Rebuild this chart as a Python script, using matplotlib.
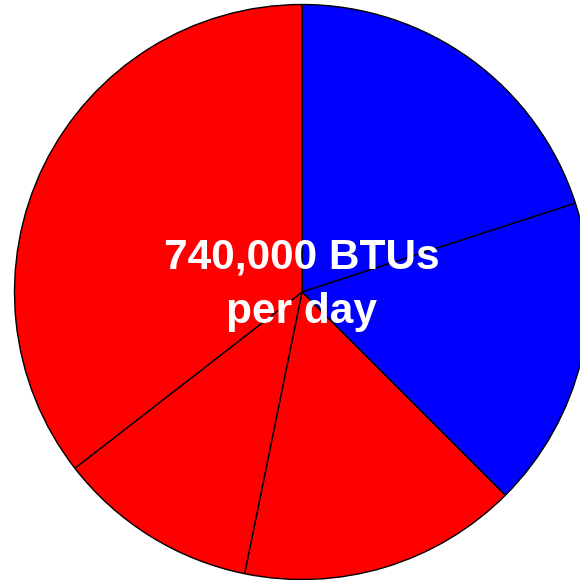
import matplotlib
matplotlib.use("Agg")
import matplotlib.pyplot as plt

plt.rcParams["font.family"] = ["Liberation Sans", "DejaVu Sans"]

# slices clockwise from 12 o'clock
shares = [20.0, 17.5, 15.7, 11.3, 35.5]
colors = ["#0000ff", "#0000ff", "#ff0000", "#ff0000", "#ff0000"]
center_label = "740,000 BTUs\nper day"

fig = plt.figure(figsize=(5.8, 5.8), dpi=100)
ax = fig.add_axes([0, 0, 1, 1])
ax.pie(shares, colors=colors, startangle=90, counterclock=False, radius=1,
       wedgeprops=dict(edgecolor="black", linewidth=1.0))
r = 287.5
ax.set_xlim(-302 / r, 278 / r)
ax.set_ylim(-288 / r, 292 / r)
ax.set_aspect("equal")
ax.axis("off")
ax.text(0, 0.025, center_label, ha="center", va="center", color="white",
        fontsize=30.5, fontweight="bold", linespacing=1.45)

fig.savefig("out.png", dpi=100)
